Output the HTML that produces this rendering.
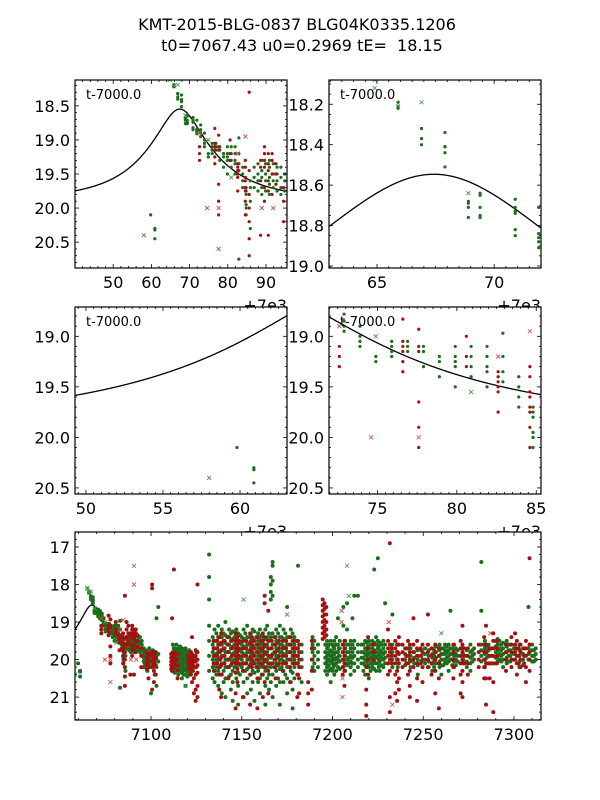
<!DOCTYPE html>
<html><head><meta charset="utf-8"><style>
html,body{margin:0;padding:0;background:#fff}
svg{display:block;font-family:"DejaVu Sans","Liberation Sans",sans-serif}
</style></head><body>
<svg id="fig" width="600" height="800" viewBox="0 0 600 800">
<rect width="600" height="800" fill="#fff"/>
<text x="297" y="30" font-size="16" text-anchor="middle">KMT-2015-BLG-0837 BLG04K0335.1206</text>
<text x="302" y="51" font-size="16" text-anchor="middle" xml:space="preserve">t0=7067.43 u0=0.2969 tE=  18.15</text>
</svg>
<script>
// model params
const t0 = 67.43, u0 = 0.2969, tE = 18.15, mBase = 19.87, fsBlend = 0.962;
// green dot nights (t-7000, mags)
const greenNights = [
[59.8,[20.1]],[60.9,[20.3,20.32,20.45]],[65.9,[18.19,18.21,18.22]],[66.9,[18.32,18.32,18.37,18.40]],
[67.9,[18.34,18.41,18.41,18.44,18.51]],[68.9,[18.68,18.69,18.71,18.76]],[69.4,[18.64,18.65,18.71,18.75,18.76]],
[70.9,[18.67,18.71,18.73,18.74,18.82,18.85]],[71.9,[18.71,18.84,18.86,18.88,18.91]],[72.9,[18.78,18.85,18.9,18.95]],
[73.9,[18.9,19.0,19.05,19.1]],[74.9,[19.2,19.25]],[75.9,[19.05,19.1,19.15,19.2]],[76.9,[19.05,19.1,19.15]],
[77.9,[19.1,19.15,19.3]],[78.9,[19.2,19.25,19.4]],[79.9,[19.1,19.2,19.25,19.3,19.5]],[80.9,[19.1,19.2,19.3,19.4]],
[81.9,[19.1,19.2,19.3,19.35,19.5]],[82.9,[18.97,19.2,19.35,19.45,20.75]],[83.9,[19.4,19.5,19.6,19.7]],
[84.8,[19.7,19.75,19.8,19.95,20.0,20.1]],[85.9,[19.6,19.7,19.9,20.3]],[86.9,[19.4,19.55,19.7]],
[87.9,[19.35,19.5,19.6,19.75]],[88.9,[19.3,19.45,19.55,19.7,19.8]],[89.9,[19.35,19.5,19.6,19.75]],
[90.9,[19.3,19.4,19.55,19.65,19.8]],[91.9,[19.35,19.5,19.6,19.7]],[92.9,[19.4,19.5,19.6,19.75]],
[93.9,[19.4,19.55,19.7,19.8]],[94.9,[19.5,19.6,19.75]],
[96,[19.7,19.85,19.95,20.05,20.2]],[97,[19.75,19.9,20.0,20.15]],[98,[19.8,19.95,20.1,20.3]],[99,[19.7,19.85,20.0,20.1,20.2]],
[100,[19.8,19.9,20.05,20.2,20.9]],[101,[19.75,19.9,20.0,20.15]],[102,[19.8,19.95,20.1,20.4]],[103,[18.9,19.9,20.0,20.2,20.7]],
[104,[18.6,19.85,20.05]],[112,[19.6,19.8,19.9,20.0,20.1,20.2,20.3]],[113,[19.7,19.85,19.95,20.05,20.15,20.35]],
[114,[19.6,19.75,19.9,20.0,20.1,20.25]],[115,[19.7,19.8,19.95,20.05,20.2,20.4]],[116,[19.65,19.85,19.95,20.1,20.2,20.3]],
[117,[19.7,19.8,19.9,20.0,20.15,20.35,20.5]],[118,[19.75,19.9,20.0,20.1,20.25,20.4]],[119,[19.7,19.85,19.95,20.05,20.2,20.4,20.7]],
[120,[19.8,19.9,20.0,20.15,20.3,20.45]],[121,[19.75,19.9,20.05,20.2,20.35]],[122,[19.8,19.95,20.1,20.25,20.4]],
[125,[19.8,20.0,20.2]],[132,[17.2,17.8,18.4,19.1,19.5,19.9,20.3]],[134,[19.4,19.6,19.8,20.0,20.2,20.5]],
[135,[19.2,19.5,19.7,19.9,20.1,20.3,20.6]],[136,[19.3,19.5,19.7,19.85,20.0,20.2,20.4]],[137,[19.1,19.4,19.6,19.8,20.0,20.3,20.7]],
[139,[19.2,19.4,19.6,19.75,19.9,20.1,20.4,20.9]],[140,[19.3,19.5,19.7,19.9,20.1,20.3,20.6]],
[141,[19.0,19.35,19.55,19.8,20.0,20.2,20.5,21.0]],[143,[19.2,19.4,19.6,19.8,20.0,20.2,20.45]],
[144,[19.3,19.5,19.7,19.95,20.15,20.4,20.8]],[145,[19.25,19.45,19.65,19.85,20.05,20.3,20.6,21.1]],
[147,[19.2,19.4,19.6,19.8,20.0,20.2,20.5]],[148,[19.3,19.5,19.7,19.9,20.1,20.35,20.7,21.2]],
[149,[19.35,19.55,19.75,19.95,20.15,20.4]],[151,[19.2,19.45,19.65,19.85,20.1,20.3,20.6,21.0]],
[152,[19.3,19.5,19.7,19.9,20.1,20.3]],[153,[19.1,19.4,19.6,19.8,20.0,20.25,20.5,20.9]],
[155,[19.3,19.5,19.7,19.9,20.1,20.4,20.8]],[156,[19.2,19.45,19.65,19.85,20.05,20.3,20.6]],
[157,[19.25,19.5,19.7,19.9,20.1,20.35,21.1]],[159,[19.3,19.5,19.7,19.9,20.1,20.3,20.6]],
[160,[19.2,19.4,19.6,19.8,20.0,20.2,20.5,20.9]],[161,[19.35,19.55,19.75,19.95,20.15,20.4]],
[163,[19.2,19.45,19.65,19.85,20.05,20.3,20.7,21.2]],[164,[19.1,19.4,19.6,19.8,20.0,20.2,20.5]],
[165,[19.3,19.5,19.7,19.9,20.1,20.4,20.8]],[166,[17.8,18.0,18.2,18.4,19.4,19.7,19.95,20.2,20.6]],
[167,[17.4,17.5,17.9,18.3,19.3,19.6,19.85,20.1,20.4,21.0]],[169,[19.2,19.5,19.7,19.9,20.1,20.3,20.7]],
[170,[19.3,19.55,19.75,19.95,20.15,20.5]],[171,[19.1,19.4,19.6,19.8,20.0,20.25,20.6,21.2]],
[173,[19.2,19.45,19.65,19.85,20.05,20.3,20.6]],[174,[19.3,19.5,19.7,19.9,20.1,20.4]],
[175,[18.6,19.4,19.6,19.8,20.0,20.2,20.5,20.9]],[177,[19.2,19.4,19.6,19.8,20.0,20.3,20.6]],
[178,[19.3,19.5,19.7,19.9,20.1,20.35,20.8,21.3]],[179,[19.4,19.6,19.8,20.0,20.2,20.5]],
[181,[17.5,19.5,19.7,19.9,20.1,20.4]],[183,[19.6,19.8,20.0,20.2,20.6]],[189,[19.4,19.6,19.8,20.0,20.2]],
[190,[19.5,19.7,19.9,20.1,20.3]],[192,[19.6,19.8,20.0,20.2]],[196,[19.6,19.8,19.95,20.1,20.3]],
[197,[19.5,19.7,19.9,20.05,20.2,20.4]],[198,[19.6,19.8,20.0,20.15,20.3]],[199,[19.5,19.75,19.9,20.05,20.25,20.6]],
[200,[19.6,19.8,19.95,20.1,20.3]],[201,[19.5,19.7,19.85,20.0,20.15,20.4]],[202,[19.4,19.6,19.8,19.95,20.1,20.3]],
[203,[18.9,19.6,19.8,20.0,20.2]],[204,[19.5,19.7,19.9,20.05,20.25]],[206,[18.6,19.1,19.6,19.8,20.0,20.2]],
[207,[19.5,19.7,19.9,20.1,20.3]],[208,[18.5,19.2,19.6,19.8,20.0,20.15]],[210,[19.5,19.7,19.9,20.05,20.2,20.4]],
[211,[18.9,19.6,19.8,19.95,20.1]],[212,[18.3,19.5,19.7,19.9,20.1,20.3]],[214,[18.3,19.6,19.8,20.0,20.2]],
[217,[19.6,19.8,19.95,20.1,20.3]],[218,[19.5,19.7,19.85,20.0,20.15,20.4]],[219,[19.55,19.75,19.9,20.05,20.2]],
[220,[19.5,19.7,19.85,20.0,20.2,20.5]],[221,[19.6,19.8,19.95,20.1,20.3]],[222,[19.5,19.7,19.9,20.05,20.2]],
[223,[17.6,19.55,19.75,19.9,20.05,20.25]],[224,[19.4,19.6,19.8,19.95,20.1,20.3]],[225,[17.3,19.5,19.7,19.9,20.1]],
[226,[19.55,19.75,19.9,20.05,20.3]],[228,[19.5,19.7,19.85,20.0,20.2]],[229,[18.5,19.6,19.8,19.95,20.1]],
[233,[18.8,19.6,19.8,20.0,20.2]],[236,[19.6,19.8,20.0,20.2]],[240,[19.7,19.85,20.0,20.15]],
[243,[19.7,19.9,20.05,20.2]],[247,[19.75,19.9,20.0,20.15,20.4]],[251,[19.7,19.85,20.0,20.1]],
[253,[19.75,19.9,20.05,20.2]],[255,[19.7,19.85,19.95,20.1,20.3]],[257,[19.65,19.8,19.95,20.1]],
[259,[19.6,19.75,19.9,20.05,20.2]],[260,[19.7,19.85,20.0,20.15,20.4]],[262,[19.6,19.75,19.85,20.0,20.1]],
[263,[19.65,19.8,19.95,20.1]],[264,[19.6,19.75,19.9,20.05,20.3]],[265,[18.7,19.7,19.85,20.0]],
[267,[19.6,19.75,19.9,20.05,20.2]],[268,[19.7,19.85,20.0,20.15]],[272,[19.7,19.85,20.0,20.1]],
[274,[19.75,19.9,20.05,20.2]],[276,[19.6,19.8,19.95,20.1,20.3]],[278,[19.7,19.85,20.0]],
[282,[17.4,18.7,19.6,19.75,19.9,20.05]],[284,[19.5,19.7,19.85,20.0,20.2]],[286,[19.6,19.75,19.9,20.1]],
[290,[19.5,19.65,19.8,19.95,20.1]],[291,[19.45,19.6,19.75,19.9,20.05]],[292,[19.5,19.7,19.85,20.0]],
[294,[19.55,19.7,19.85,20.0,20.2]],[296,[19.5,19.65,19.8,19.95,20.1]],[298,[19.6,19.75,19.9,20.05]],
[303,[19.6,19.75,19.9,20.05,20.2]],[308,[18.6,19.7,19.85,20.0]],[310,[19.6,19.75,19.9,20.05]],[312,[19.7,19.85,20.0]]
];
// extra green band points (season panel)
const greenBand = [
[96.5,[19.8,19.9,20.0,20.1]],[99.5,[19.8,19.95,20.05]],[112.5,[19.7,19.85,19.95,20.05,20.15,20.25]],
[115.5,[19.75,19.85,19.95,20.1,20.25]],[117.5,[19.75,19.85,19.95,20.05,20.2,20.3]],[119.5,[19.8,19.9,20.0,20.1,20.3]],
[134.5,[19.5,19.7,19.9,20.1]],[138,[19.4,19.6,19.8,20.0,20.2]],[142,[19.4,19.6,19.8,20.0,20.2]],
[146,[19.4,19.6,19.8,20.0,20.2]],[150,[19.4,19.6,19.8,20.0,20.2]],[154,[19.4,19.6,19.8,20.0,20.2]],
[158,[19.4,19.6,19.8,20.0,20.2]],[162,[19.4,19.6,19.8,20.0,20.2]],[168,[19.4,19.6,19.8,20.0,20.2]],
[172,[19.4,19.6,19.8,20.0,20.2]],[176,[19.4,19.6,19.8,20.0,20.2]],[180,[19.5,19.7,19.9,20.1]],
[197.5,[19.65,19.85,20.0,20.15]],[200.5,[19.65,19.85,20.0,20.2]],[203.5,[19.7,19.9,20.05]],
[209,[19.6,19.8,19.95,20.1]],[216,[19.6,19.8,19.95,20.1]],[219.5,[19.65,19.85,20.0,20.15]],
[222.5,[19.6,19.8,19.95,20.1]],[225.5,[19.65,19.85,20.0,20.2]],[227,[19.6,19.8,19.95,20.15]],
[245,[19.8,19.95,20.1]],[249,[19.75,19.9,20.05]],[256,[19.75,19.9,20.05,20.2]],[261,[19.7,19.85,20.0,20.15]],
[266,[19.7,19.85,20.0,20.15]],[269,[19.75,19.9,20.05]],[277,[19.75,19.9,20.05]],[285,[19.65,19.8,19.95,20.1]],
[293,[19.6,19.75,19.9,20.05]],[297,[19.6,19.75,19.9,20.05]],[300,[19.7,19.85,20.0]],[305,[19.7,19.85,20.0,20.15]],[311,[19.75,19.9,20.05]]
];
// red dot nights
const redNights = [
[72.6,[19.1,19.2,19.3]],[76.6,[18.83,19.05,19.1,19.15,19.25,19.35]],[77.6,[18.93,19.1,19.15,19.65,19.9,20.1]],
[80.6,[19.0,19.2,19.3]],[82.6,[19.35,19.4,19.45,19.5,19.55,19.75]],[84.6,[19.3,19.4,19.55,19.6,19.7,19.75,19.9,20.1]],
[85.6,[18.3,19.45,19.8,20.0,20.2,20.45,20.7]],[88.6,[19.3,19.4,19.6,20.4]],[89.6,[19.1,19.2,19.3,19.4,19.7,19.9]],
[90.6,[19.2,19.35,19.45,19.6,19.75,20.4]],[91.6,[19.2,19.3,19.5,19.8]],[92.6,[19.35,19.5,19.65]],
[94.6,[19.7,19.9,20.2]],[97.6,[19.8,19.95,20.1,20.25]],[98.6,[19.85,20.0,20.2,20.5]],
[100.6,[18.0,18.1,19.8,19.9,20.05,20.2,20.8]],[101.6,[19.85,20.0,20.1,20.3,20.6]],[102.6,[19.8,19.95,20.15,20.4]],
[111.6,[18.9,19.9,20.0,20.1,20.2,20.3]],[112.6,[17.6,19.8,19.95,20.05,20.2]],[114.6,[19.85,20.0,20.15,20.3,20.5]],
[120.6,[19.9,20.0,20.1,20.25]],[121.6,[19.8,19.95,20.05,20.2,20.4]],[122.6,[19.4,19.85,20.0,20.15,20.3,20.6]],
[123.6,[19.9,20.05,20.2,20.5,20.9]],[124.6,[19.75,19.9,20.05,20.2,20.4,20.8,21.1]],[125.6,[18.0,19.8,20.0,20.15,20.35,20.7,21.0]],
[134.6,[19.5,19.7,19.9,20.1,20.3]],[137.6,[19.4,19.6,19.8,20.0,20.2,20.4,20.8]],[138.6,[19.3,19.55,19.75,19.95,20.15,20.4,21.0]],
[142.6,[19.4,19.6,19.8,20.0,20.2,20.5]],[146.6,[19.3,19.5,19.7,19.9,20.1,20.35,20.9,21.3]],[147.6,[19.4,19.6,19.8,20.0,20.25,20.6]],
[150.6,[19.5,19.7,19.9,20.1,20.3,21.0]],[154.6,[19.3,19.55,19.75,19.95,20.15,20.4,21.2]],[155.6,[19.4,19.6,19.8,20.0,20.2]],
[158.6,[19.4,19.6,19.8,20.0,20.2,20.5,21.3]],[161.6,[19.3,19.5,19.7,19.9,20.1,20.4,21.0]],
[162.6,[18.3,18.5,19.4,19.6,19.8,20.0,20.2,20.6]],[164.6,[18.7,19.5,19.7,19.9,20.1,20.3,20.9]],
[168.6,[19.4,19.6,19.8,20.0,20.2,20.5]],[172.6,[19.5,19.7,19.9,20.1,20.3]],[176.6,[19.4,19.6,19.8,20.0,20.2,20.6]],
[180.6,[19.5,19.7,19.9,20.1,20.4,21.0]],[181.6,[19.6,19.8,20.0,20.2,20.5,20.9]],[186.6,[20.6,20.9,21.2]],
[188.6,[19.5,19.7,20.0,20.3,20.8]],[194.6,[18.4,18.55,18.7,18.85,19.0,19.15,19.3,19.45]],
[195.6,[18.5,18.65,18.8,18.95,19.1,19.25,19.4]],[196.6,[18.6,18.8,19.0,19.2,19.35]],
[205.6,[19.6,19.8,20.0,20.2,20.4]],[206.6,[19.5,19.7,19.9,20.1,20.3,20.7]],[218.6,[20.2,20.8,21.2,21.5]],
[219.6,[19.4,19.7,20.0,20.4]],[222.6,[19.6,19.8,20.0]],[230.6,[19.2,19.5,19.7,19.9,20.1,20.4]],
[231.6,[16.9,19.6,19.8,20.0,20.3,21.0,21.4]],[234.6,[19.5,19.7,19.9,20.1,20.4,20.9]],
[235.6,[19.6,19.8,20.0,20.3,20.6,21.1]],[236.6,[19.4,19.6,19.85,20.1,20.5,20.8]],[238.6,[19.6,19.8,20.0,20.2]],
[241.6,[19.5,19.7,19.9,20.1,20.4]],[242.6,[19.6,19.8,20.0,20.3,20.7,21.0]],[244.6,[18.9,19.6,19.8,20.0,20.2]],
[246.6,[19.5,19.7,19.9,20.1,20.5,21.1]],[249.6,[19.6,19.8,20.0,20.2,20.6]],[252.6,[18.8,19.6,19.8,20.0,20.2]],
[254.6,[19.7,19.9,20.1,20.4]],[256.6,[19.6,19.8,20.0,20.3,20.9]],[258.6,[19.7,19.9,20.1,20.5,21.3]],
[266.6,[19.6,19.8,20.0,20.2,20.5]],[270.6,[19.5,19.7,19.9,20.1,20.4,20.9]],[271.6,[19.1,19.6,19.8,20.0,20.3,20.6,21.0]],
[274.6,[19.7,19.9,20.1,20.4]],[280.6,[19.6,19.8,20.0,20.2]],[283.6,[19.4,19.6,19.8,20.0,20.2,20.5]],
[284.6,[19.1,19.6,19.8,20.1,20.5,21.2]],[286.6,[19.7,19.9,20.1,20.5]],[288.6,[19.3,19.5,19.7,19.9,20.1,20.6,21.4]],
[290.6,[19.5,19.7,19.9,20.1]],[295.6,[19.6,19.8,20.0,20.3]],[298.6,[19.4,19.6,19.8,20.0,20.2]],
[300.6,[19.3,19.6,19.8,20.0]],[301.6,[19.5,19.7,19.9,20.1,20.4]],[303.6,[19.6,19.8,20.0,20.2]],
[306.6,[19.5,19.7,19.9,20.2,20.6]],[308.6,[17.3,19.6,19.8,20.0,20.3]]
];
// extra red band points (season panel)
const redBand = [
[86.5,[19.0,19.2,19.4,19.6]],[87.5,[19.1,19.3,19.5]],[98.1,[19.9,20.05,20.15]],[101.1,[19.9,20.05,20.2]],
[111.1,[19.85,19.95,20.05,20.15,20.25]],[113.1,[19.85,19.95,20.05,20.15]],[121.1,[19.9,20.0,20.1,20.2]],[123.1,[19.95,20.05,20.15,20.3]],
[136.5,[19.5,19.7,19.9,20.1]],[140.5,[19.5,19.7,19.9,20.1]],[144.5,[19.5,19.7,19.9,20.1]],[148.5,[19.5,19.7,19.9,20.1]],
[152.5,[19.5,19.7,19.9,20.1]],[156.5,[19.5,19.7,19.9,20.1]],[160.5,[19.5,19.7,19.9,20.1]],[166.5,[19.5,19.7,19.9,20.1]],
[170.5,[19.5,19.7,19.9,20.1]],[174.5,[19.5,19.7,19.9,20.1]],[178.5,[19.5,19.7,19.9,20.1]],
[232.6,[19.7,19.9,20.1]],[240.6,[19.7,19.9,20.1]],[248.6,[19.7,19.9,20.1]],[272.6,[19.7,19.9,20.1]],
[287.6,[19.7,19.9,20.1]],[302.6,[19.7,19.9,20.1]],[305.6,[19.7,19.9,20.1]]
];
// crosses (flagged points)
const greenCrossT = [64.9,64.9,65.9,66.9,68.9,58.0,74.9,80.9,119,151,175,208,209,260];
const greenCrossM = [18.08,18.12,18.21,18.19,18.64,20.40,19.0,19.55,20.7,18.4,18.8,17.5,18.3,19.3];
const redCrossT = [72.6,74.6,77.6,77.6,82.6,84.6,88.9,91.9,90.6,90.6,205,205,205.5,205.5,231,233,287];
const redCrossM = [18.9,20.0,20.0,20.6,19.2,18.95,20.0,20.0,17.5,18.0,18.7,19.0,20.5,21.0,19.0,21.2,19.3];

// panel definitions
const panels = [
 {name:'panel-peak', x0:75,y0:80,w:212,h:188, xmin:40.0,xmax:95.5, ymin:18.12,ymax:20.88, xt:[50,60,70,80,90], xl:['50','60','70','80','90'], xminor:2, yt:[18.5,19.0,19.5,20.0,20.5], yl:['18.5','19.0','19.5','20.0','20.5'], yminor:0.1, offText:true, curveMax:1000, r:1.6},
 {name:'panel-peak-zoom', x0:329,y0:80,w:212,h:188, xmin:62.95,xmax:72.0, ymin:18.08,ymax:19.01, xt:[65,70], xl:['65','70'], xminor:0.5, yt:[18.2,18.4,18.6,18.8,19.0], yl:['18.2','18.4','18.6','18.8','19.0'], yminor:0.05, offText:true, curveMax:1000, r:1.6},
 {name:'panel-prepeak', x0:75,y0:307,w:212,h:187, xmin:49.29,xmax:63.05, ymin:18.71,ymax:20.56, xt:[50,55,60], xl:['50','55','60'], xminor:0.5, yt:[19.0,19.5,20.0,20.5], yl:['19.0','19.5','20.0','20.5'], yminor:0.1, offText:true, curveMax:1000, r:1.6},
 {name:'panel-postpeak', x0:329,y0:307,w:212,h:187, xmin:71.95,xmax:85.3, ymin:18.71,ymax:20.56, xt:[75,80,85], xl:['75','80','85'], xminor:0.5, yt:[19.0,19.5,20.0,20.5], yl:['19.0','19.5','20.0','20.5'], yminor:0.1, offText:true, curveMax:1000, r:1.6},
 {name:'panel-full-season', x0:75,y0:532,w:466,h:188, xmin:58.1,xmax:314.9, ymin:16.6,ymax:21.61, xt:[100,150,200,250,300], xl:['7100','7150','7200','7250','7300'], xminor:10, yt:[17,18,19,20,21], yl:['17','18','19','20','21'], yminor:0.2, offText:false, curveMax:90, r:2.0}
];

const NS='http://www.w3.org/2000/svg';
const svg=document.getElementById('fig');
function mk(tag,attrs,parent){const e=document.createElementNS(NS,tag);for(const k in attrs)e.setAttribute(k,attrs[k]);(parent||svg).appendChild(e);return e;}
function modelMag(t){const tau=(t-t0)/tE;const u=Math.sqrt(u0*u0+tau*tau);const A=(u*u+2)/(u*Math.sqrt(u*u+4));return mBase-2.5*Math.log10(fsBlend*(A-1)+1);}

panels.forEach((p,i)=>{
  const sx=t=>p.x0+(t-p.xmin)/(p.xmax-p.xmin)*p.w;
  const sy=m=>p.y0+(m-p.ymin)/(p.ymax-p.ymin)*p.h;
  const g=mk('g',{});
  
  
  const bg=mk('rect',{x:p.x0,y:p.y0,width:p.w,height:p.h,fill:'#fff'},g);
  
  
  const cp=mk('clipPath',{id:'cp'+i},g);
  mk('rect',{x:p.x0,y:p.y0,width:p.w,height:p.h},cp);
  const data=mk('g',{'clip-path':'url(#cp'+i+')'},g);
  
  
  // model curve
  let d='';const N=300;const tEnd=Math.min(p.xmax,p.curveMax);
  for(let k=0;k<=N;k++){const t=p.xmin+(tEnd-p.xmin)*k/N;d+=(k?'L':'M')+sx(t).toFixed(2)+' '+sy(modelMag(t)).toFixed(2);}
  const curve=mk('path',{d:d,fill:'none',stroke:'#000','stroke-width':1.3},data);
  
  
  const r = p.r;
  function dots(nights,col,nm){
    nights.forEach(n=>n[1].forEach(m=>{
      const c=mk('circle',{cx:sx(n[0]).toFixed(2),cy:sy(m).toFixed(2),r:r,fill:col},data);
      
      
    }));
  }
  function crosses(T,M,col,nm){
    T.forEach((t,k)=>{const x=sx(t),y=sy(M[k]),s=2;
      const c=mk('path',{d:`M${x-s} ${y-s}L${x+s} ${y+s}M${x-s} ${y+s}L${x+s} ${y-s}`,stroke:col,'stroke-width':0.8,fill:'none'},data);
      
      
    });
  }
  dots(greenNights,'#1c6e1c','green-point');
  if(i===4) dots(greenBand,'#1c6e1c','green-point');
  dots(redNights,'#a31212','red-point');
  if(i===4) dots(redBand,'#a31212','red-point');
  crosses(greenCrossT,greenCrossM,'#3a9a3a','green-flagged-point');
  crosses(redCrossT,redCrossM,'#d04040','red-flagged-point');
  // ticks
  const tk=mk('g',{stroke:'#000','stroke-width':0.8},g);
  
  
  const fx=Math.ceil(p.xmin/p.xminor)*p.xminor;
  for(let t=fx;t<=p.xmax;t+=p.xminor){const x=sx(t);const major=p.xt.some(v=>Math.abs(v-t)<1e-6);const L=major?4:2;
    mk('line',{x1:x,y1:p.y0+p.h,x2:x,y2:p.y0+p.h-L},tk);mk('line',{x1:x,y1:p.y0,x2:x,y2:p.y0+L},tk);}
  const fy=Math.ceil(p.ymin/p.yminor-1e-6)*p.yminor;
  for(let m=fy;m<=p.ymax;m+=p.yminor){const y=sy(m);const major=p.yt.some(v=>Math.abs(v-m)<1e-6);const L=major?4:2;
    mk('line',{x1:p.x0,y1:y,x2:p.x0+L,y2:y},tk);mk('line',{x1:p.x0+p.w,y1:y,x2:p.x0+p.w-L,y2:y},tk);}
  const fr=mk('rect',{x:p.x0,y:p.y0,width:p.w,height:p.h,fill:'none',stroke:'#000','stroke-width':1.2},g);
  
  
  p.xt.forEach((v,k)=>{const t=mk('text',{x:sx(v),y:p.y0+p.h+20,'font-size':16,'text-anchor':'middle'},g);t.textContent=p.xl[k];
    
    });
  p.yt.forEach((v,k)=>{const t=mk('text',{x:p.x0-5,y:sy(v)+6,'font-size':16,'text-anchor':'end'},g);t.textContent=p.yl[k];
    
    });
  if(p.offText){
    const lab=mk('text',{x:p.x0+11,y:p.y0+19,'font-size':13},g);lab.textContent='t-7000.0';
    
    
    const o=mk('text',{x:p.x0+p.w,y:p.y0+p.h+43,'font-size':16,'text-anchor':'end'},g);o.textContent='+7e3';
    
    
  }
});
</script>
</body></html>
